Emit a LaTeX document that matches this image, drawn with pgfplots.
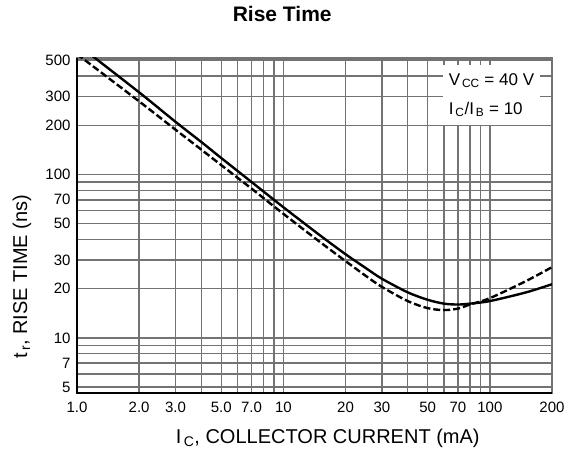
\documentclass[border=0pt]{standalone}
\usepackage{pgfplots}
\pgfplotsset{compat=1.18}
\usepackage{fontspec}
\setmainfont{Liberation Sans}
\begin{document}
\begin{tikzpicture}
\begin{axis}[
  scale only axis, width=475pt, height=335pt,
  xmode=log, ymode=log, xmin=1, xmax=200, ymin=4.6, ymax=516,
  xtick={1,2,3,4,5,6,7,8,9,10,20,30,40,50,60,70,80,90,100,200},
  xticklabels={1.0,2.0,3.0,,5.0,,7.0,,,10,20,30,,50,,70,,,100,200},
  ytick={5,6,7,8,9,10,20,30,40,50,60,70,80,90,100,200,300,400,500},
  yticklabels={5,,7,,,10,20,30,,50,,70,,,100,200,300,,500},
  grid=major, major grid style={black!55, line width=1.5pt},
  major tick length=0pt,
  axis line style={black!55, line width=1.5pt},
  tick label style={font=\fontsize{15}{17}\selectfont},
  xticklabel style={yshift=-5pt},
  yticklabel style={xshift=-3pt},
  /pgf/number format/assume math mode=true,
  title={Rise Time},
  title style={at={(0.432,1.113)}, anchor=center, font=\fontsize{21}{24}\selectfont\bfseries},
  xlabel={I\textsubscript{\,C}, COLLECTOR CURRENT (mA)},
  xlabel style={at={(0.528,-0.134)}, anchor=center, font=\fontsize{20}{22}\selectfont},
  ylabel={t\textsubscript{\,r}, RISE TIME (ns)},
  ylabel style={at={(-0.116,0.347)}, anchor=center, font=\fontsize{20}{22}\selectfont},
]
\addplot[black, line width=2.4pt, smooth] coordinates {
(1,628)(2,318)(3,210)(4,158)(5,126)(7,90)(10,63)(15,42.5)(20,32.5)(25,26.8)(30,23)(40,19)(50,17.1)(60,16.2)(70,16)(80,16.2)(100,16.8)(150,19)(200,21.3)};
\addplot[black, line width=2.4pt, smooth, dash pattern=on 7pt off 3pt] coordinates {
(1,545)(2,280)(3,188)(4,142)(5,114)(7,82)(10,57.4)(15,38.7)(20,29.5)(25,24)(30,20.5)(40,16.8)(50,15.2)(60,14.8)(70,15.1)(80,16.0)(100,17.5)(150,22.3)(200,27.1)};
\node[fill=white, anchor=north east, inner sep=5pt, minimum width=97pt, minimum height=60pt, align=left, font=\fontsize{17}{29}\selectfont]
  at (rel axis cs:0.975,0.979) {V\textsubscript{\,CC} = 40 V\\I\textsubscript{\,C}/I\textsubscript{\,B} = 10};
\end{axis}
\draw[black, line width=2pt] (current axis.north west) -- (current axis.south west) -- (current axis.south east);
\pgfresetboundingbox
\path (current axis.south west) ++(-77pt,-62pt) rectangle ++(571pt,455pt);
\end{tikzpicture}
\end{document}
